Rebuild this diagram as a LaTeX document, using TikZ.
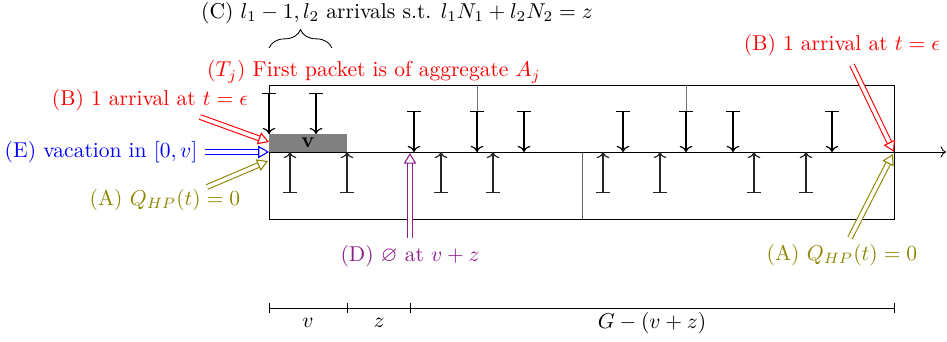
\documentclass[tikz,border=0pt]{standalone}
\usepackage{amssymb}
\usetikzlibrary{arrows.meta,decorations.pathreplacing}
\definecolor{dviolet}{RGB}{140,30,140}
\begin{document}
\begin{tikzpicture}[x=0.465pt,y=-0.465pt]
\useasboundingbox (0,0) rectangle (947,342);
\tikzset{
  arr/.style={line width=0.55pt, {Bar[width=6.5pt]}-{To}},
  dbl/.style={double, double distance=1.7pt, line width=0.5pt, -{Triangle[open,length=5pt,width=5.8pt]}},
}
% boxes
\draw (269,85) rectangle (894,152);
\draw (269,152) rectangle (894,219);
\draw[black!55] (477,85) -- (477,152);
\draw[black!55] (686,85) -- (686,152);
\draw[black!60] (582,152) -- (582,219);
\fill[gray] (269,134) rectangle (347,152);
\node (vbox) at (308,143) {\textbf{v}};
% axis
\coordinate (O) at (269,152);
\coordinate (E0) at (894,152);
\coordinate (axend) at (946,152);
\draw[-{To}] (O) -- (axend);
% down arrows
\foreach \x/\y/\z in {269/93/134,316/93/134,414/111/152,477/111/152,524/111/152,623/111/152,686/111/152,733/111/152,832/111/152}
  \draw[arr] (\x,\y) -- (\x,\z);
% up arrows
\foreach \x in {290,347,441,493,603,660,754,806}
  \draw[arr,black!85] (\x,193) -- (\x,152);
% labels
\node (C) at (397,13) {(C) $l_1-1, l_2$ arrivals s.t. $l_1N_1+l_2N_2=z$};
\draw[decorate, decoration={brace, amplitude=8.5pt}] (269,48) -- (332,48);
\node[red] (Tj) at (374,72) {$(T_j)$ First packet is of aggregate $A_j$};
\node[red] (Bl) at (150,100) {(B) 1 arrival at $t=\epsilon$};
\node[blue] (El) at (101,152) {(E) vacation in $[0,v]$};
\node[olive] (Al) at (165,200) {(A) $Q_{HP}(t)=0$};
\node[dviolet] (Dl) at (410,256) {(D) $\varnothing$ at $v+z$};
\node[red] (Br) at (842,45) {(B) 1 arrival at $t=\epsilon$};
\node[olive] (Ar) at (842,255) {(A) $Q_{HP}(t)=0$};
% double arrows
\coordinate (b1s) at (200,117); \coordinate (b1e) at (269,142);
\coordinate (e1s) at (205,152);
\coordinate (a1s) at (207,187); \coordinate (a1e) at (268,161);
\coordinate (d1s) at (410,238); \coordinate (d1e) at (410,153);
\coordinate (b2s) at (852,65);
\coordinate (a2s) at (850,238); \coordinate (a2e) at (893,154);
\draw[dbl,red] (b1s) -- (b1e);
\draw[dbl,blue] (e1s) -- (O);
\draw[dbl,olive] (a1s) -- (a1e);
\draw[dbl,dviolet] (d1s) -- (d1e);
\draw[dbl,red] (b2s) -- (E0);
\draw[dbl,olive] (a2s) -- (a2e);
% scale
\coordinate (s0) at (269,308); \coordinate (s1) at (347,308);
\coordinate (s2) at (410,308); \coordinate (s3) at (894,308);
\draw (s0) -- (s3);
\foreach \p in {s0,s1,s2,s3} \draw ([yshift=5*0.465pt]\p) -- ([yshift=-5*0.465pt]\p);
\node (lv) at (308,323) {$v$};
\node (lz) at (379,323) {$z$};
\node (lg) at (652,323) {$G-(v+z)$};
\end{tikzpicture}
\end{document}
